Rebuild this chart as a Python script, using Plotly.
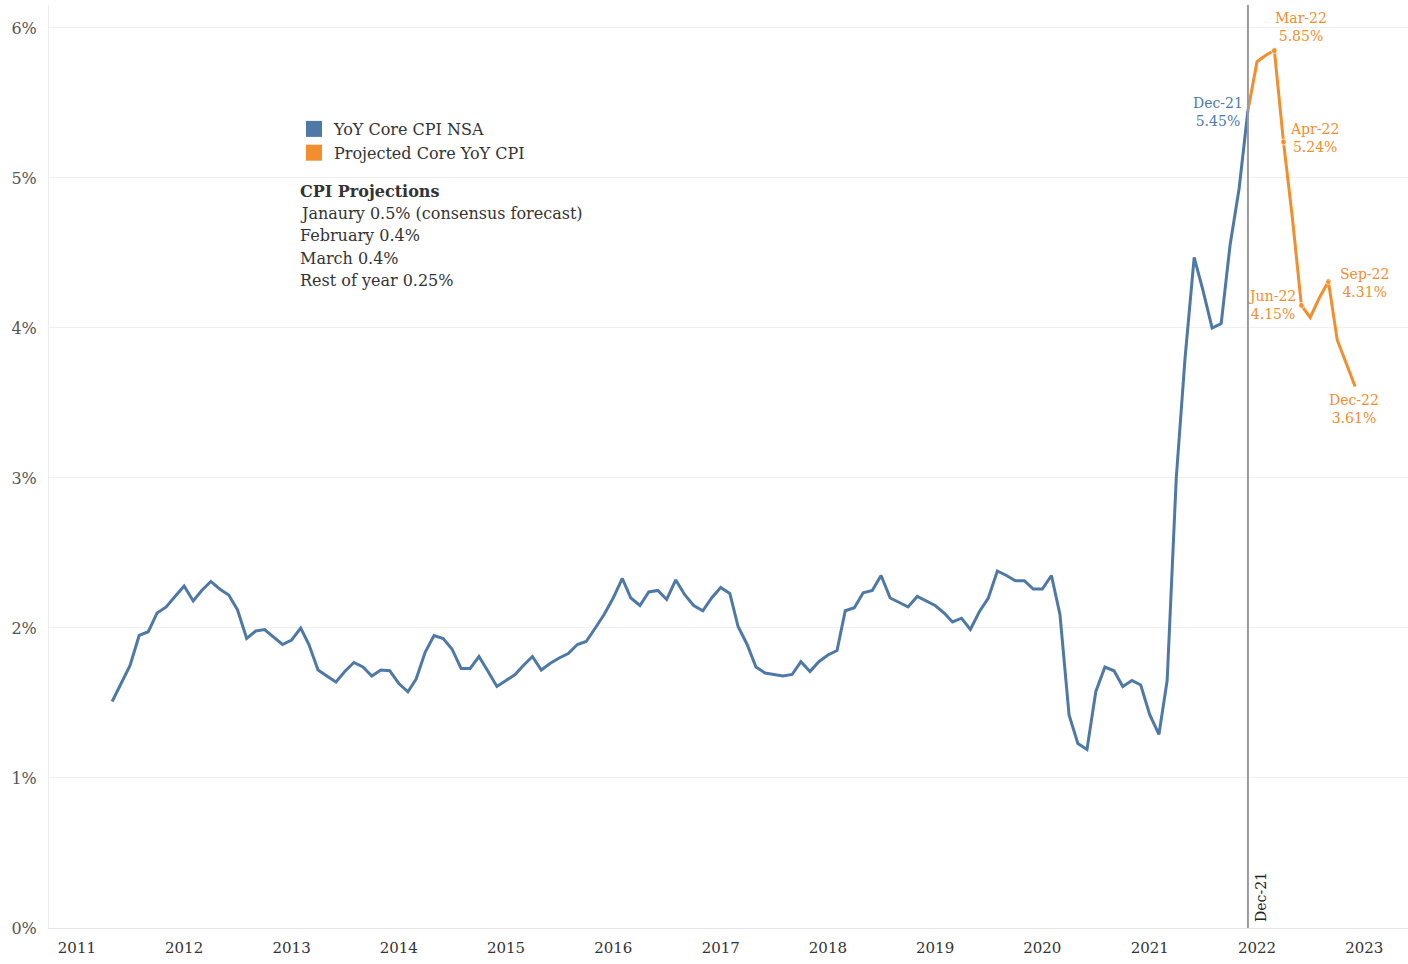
import pandas as pd
import plotly.graph_objects as go

# ---------------- data ----------------
core_start = "2011-05-01"
core_cpi = [
    1.51, 1.63, 1.75, 1.95, 1.975, 2.10, 2.14, 2.21,                     # May-Dec 2011
    2.28, 2.18, 2.25, 2.31, 2.26, 2.22, 2.12, 1.93, 1.98, 1.99, 1.94, 1.89,  # 2012
    1.92, 2.00, 1.89, 1.72, 1.68, 1.64, 1.71, 1.77, 1.74, 1.68, 1.72, 1.715,  # 2013
    1.63, 1.575, 1.66, 1.84, 1.95, 1.93, 1.86, 1.73, 1.73, 1.81, 1.71, 1.61,  # 2014
    1.65, 1.69, 1.75, 1.81, 1.72, 1.765, 1.80, 1.83, 1.89, 1.91, 2.00, 2.09,  # 2015
    2.20, 2.33, 2.20, 2.15, 2.24, 2.25, 2.19, 2.32, 2.22, 2.15, 2.115, 2.20,  # 2016
    2.27, 2.23, 2.01, 1.89, 1.74, 1.70, 1.69, 1.68, 1.69, 1.775, 1.71, 1.775,  # 2017
    1.82, 1.85, 2.115, 2.135, 2.235, 2.25, 2.35, 2.20, 2.17, 2.14, 2.21, 2.18,  # 2018
    2.15, 2.10, 2.04, 2.065, 1.99, 2.11, 2.20, 2.38, 2.35, 2.315, 2.315, 2.26,  # 2019
    2.26, 2.35, 2.09, 1.42, 1.23, 1.19, 1.575, 1.74, 1.715, 1.61, 1.65, 1.62,  # 2020
    1.42, 1.29, 1.65, 3.00, 3.80, 4.47, 4.25, 4.00, 4.03, 4.55, 4.93, 5.45,   # 2021
]
proj_start = "2021-12-01"
proj_cpi = [5.45, 5.775, 5.82, 5.85, 5.24, 4.74, 4.15, 4.07, 4.20, 4.31, 3.92, 3.76, 3.61]
proj_labeled = ["Mar-22", "Apr-22", "Jun-22", "Sep-22", "Dec-22"]

y_ticks = [0, 1, 2, 3, 4, 5, 6]
y_ticktext = ["0%", "1%", "2%", "3%", "4%", "5%", "6%"]

proj_notes_title = "CPI Projections"
proj_notes = [
    "Janaury 0.5% (consensus forecast)",
    "February 0.4%",
    "March 0.4%",
    "Rest of year 0.25%",
]
series_names = ["YoY Core CPI NSA", "Projected Core YoY CPI"]
ref_label = "Dec-21"

# ---------------- styling ----------------
BLUE = "#4e79a7"
ORANGE = "#f28e2b"
SERIF = "DejaVu Serif"
TEXT = "#333333"

core_dates = pd.date_range(core_start, periods=len(core_cpi), freq="MS")
proj_dates = pd.date_range(proj_start, periods=len(proj_cpi), freq="MS")
proj_names = [d.strftime("%b-%y") for d in proj_dates]
core_names = [d.strftime("%b-%y") for d in core_dates]

fig = go.Figure()
fig.add_trace(go.Scatter(x=core_dates, y=core_cpi, mode="lines",
                         line=dict(color=BLUE, width=3), showlegend=False,
                         hoverinfo="x+y"))
msize = [6 if n in proj_labeled[:-1] else 0 for n in proj_names]
fig.add_trace(go.Scatter(x=proj_dates, y=proj_cpi, mode="lines+markers",
                         line=dict(color=ORANGE, width=3),
                         marker=dict(size=msize, color=ORANGE),
                         showlegend=False))
# legend entries (squares)
for name, col in zip(series_names, [BLUE, ORANGE]):
    fig.add_trace(go.Scatter(x=[None], y=[None], mode="markers", name=name,
                             marker=dict(symbol="square", size=16, color=col)))

# reference line
fig.add_shape(type="line", xref="x", yref="paper", x0=proj_dates[0], x1=proj_dates[0],
              y0=0, y1=1, line=dict(color="#9a9a9a", width=2))
fig.add_annotation(x=proj_dates[0], y=0, xref="x", yref="y", text=ref_label,
                   textangle=-90, showarrow=False, xanchor="left", yanchor="bottom",
                   xshift=3, yshift=4, font=dict(family=SERIF, size=14, color="#222"))

# data labels
def lbl(idx, color, xanchor, yanchor, xshift, yshift, dates, vals, names):
    fig.add_annotation(x=dates[idx], y=vals[idx], text=f"{names[idx]}<br>{vals[idx]:.2f}%",
                       showarrow=False, xanchor=xanchor, yanchor=yanchor,
                       xshift=xshift, yshift=yshift, align="center",
                       font=dict(family=SERIF, size=14, color=color))

lbl(len(core_cpi) - 1, BLUE, "right", "middle", -3, -2, core_dates, core_cpi, core_names)
placements = {
    "Mar-22": ("left", "bottom", -1, 4),
    "Apr-22": ("left", "middle", 5, 4),
    "Jun-22": ("right", "middle", -3, 0),
    "Sep-22": ("left", "middle", 10, -2),
    "Dec-22": ("center", "top", -1, -4),
}
for n in proj_labeled:
    i = proj_names.index(n)
    xa, ya, xs, ys = placements[n]
    lbl(i, ORANGE, xa, ya, xs, ys, proj_dates, proj_cpi, proj_names)

# projection notes
PL, PW, PT, PH = 49, 1359, 5, 923
def px2paper(px, py):
    return (px - PL) / PW, 1 - (py - PT) / PH

x0, y0 = px2paper(298, 191)
fig.add_annotation(x=x0, y=y0, xref="paper", yref="paper", text=f"<b>{proj_notes_title}</b>",
                   showarrow=False, xanchor="left", yanchor="middle",
                   font=dict(family=SERIF, size=16, color=TEXT))
for k, line in enumerate(proj_notes):
    xx, yy = px2paper(298, 213 + 22.6 * k)
    fig.add_annotation(x=xx, y=yy, xref="paper", yref="paper", text=line,
                       showarrow=False, xanchor="left", yanchor="middle",
                       font=dict(family=SERIF, size=16, color=TEXT))

lx, ly = px2paper(294, 112)
fig.update_layout(
    width=1408, height=964,
    margin=dict(l=PL, r=0, t=PT, b=964 - PT - PH),
    plot_bgcolor="white", paper_bgcolor="white",
    font=dict(family=SERIF, color=TEXT),
    legend=dict(x=lx, y=ly, xanchor="left", yanchor="top", bgcolor="rgba(0,0,0,0)",
                font=dict(family=SERIF, size=16, color=TEXT), itemsizing="trace",
                tracegroupgap=0),
    xaxis=dict(type="date", range=["2010-09-28", "2023-05-30"], dtick="M12",
               tick0="2011-01-01", tickformat="%Y", showgrid=False, zeroline=False,
               showline=True, linecolor="#e4e4e4", linewidth=1, ticks="",
               ticklabelstandoff=6,
               tickfont=dict(family=SERIF, size=15, color=TEXT)),
    yaxis=dict(range=[0, 6.153], tickmode="array", tickvals=y_ticks, ticktext=y_ticktext,
               showgrid=True, gridcolor="#f0f0f0", gridwidth=1, zeroline=False,
               showline=True, linecolor="#ececec", ticks="", ticklabelstandoff=8,
               tickfont=dict(family=SERIF, size=16, color="#555555")),
    hovermode="closest",
)

fig.write_html("out.html", config={"displayModeBar": False},
               post_script="document.body.style.margin='0';")
